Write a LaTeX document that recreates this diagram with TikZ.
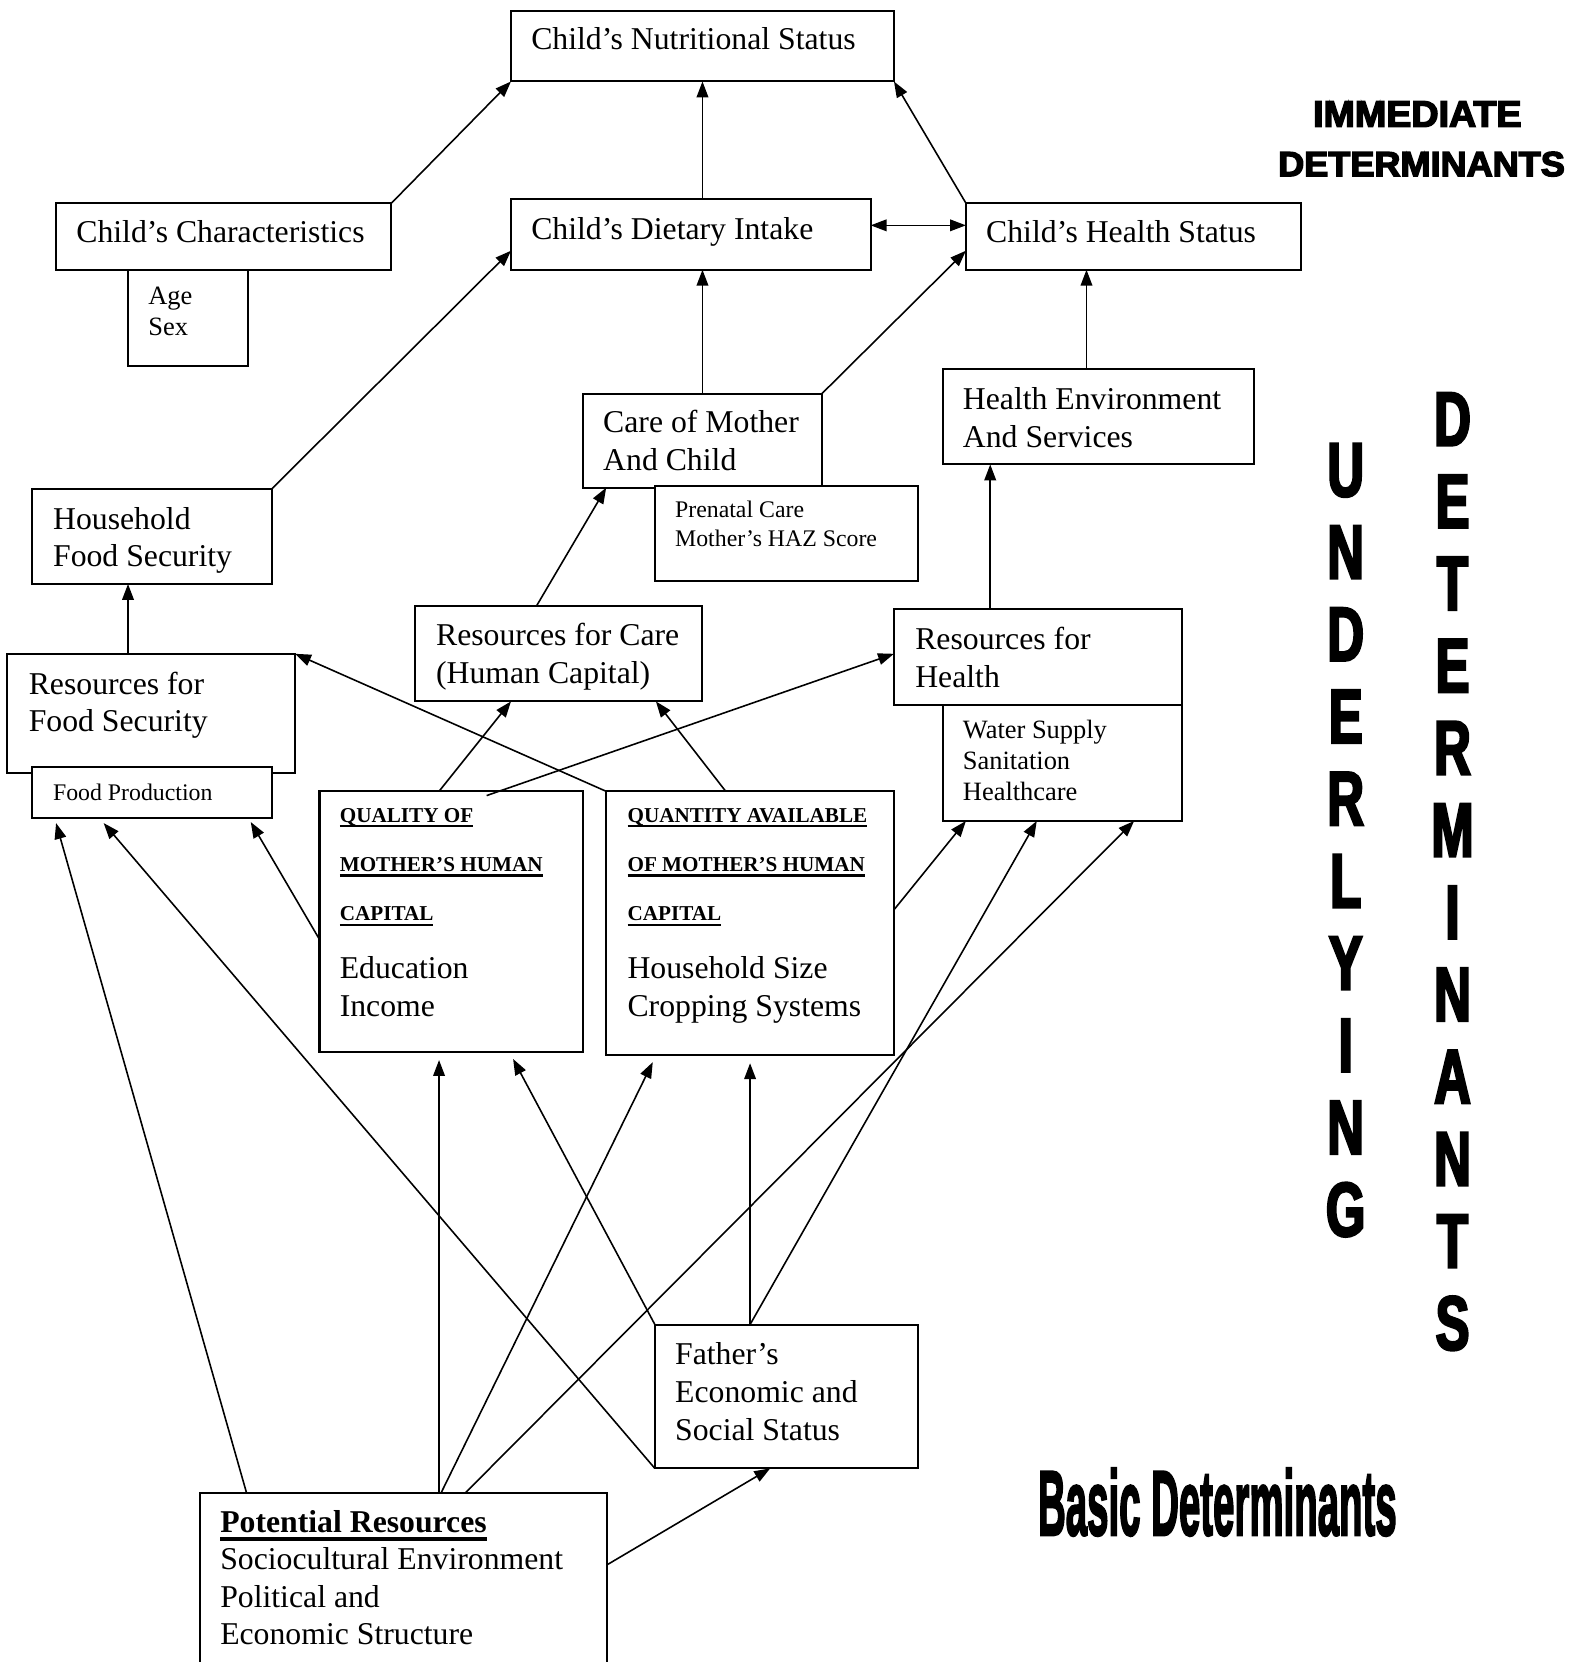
\documentclass[tikz,border=0pt]{standalone}
\usepackage{fontspec}
\usepackage{graphicx}
\setmainfont{Liberation Serif}
\newfontfamily\heavyfont{Liberation Sans}[BoldFeatures={FakeBold=4}]
\newfontfamily\basicfont{Liberation Sans}[BoldFeatures={FakeBold=3}]
\newfontfamily\condfont{Liberation Sans}[FakeStretch=0.66,BoldFeatures={FakeBold=3}]
\usetikzlibrary{arrows.meta}
\newsavebox\ulbox
\newcommand\myul[3]{\sbox\ulbox{#3}\rlap{\rule[#1]{\wd\ulbox}{#2}}\usebox\ulbox}
\begin{document}
\begin{tikzpicture}[x=1pt,y=-1pt,
  box/.style={draw, line width=1.9pt, fill=white, inner sep=0pt, outer sep=0pt, anchor=north west},
  txt/.style={anchor=north west, inner sep=0pt, align=left, font=\fontsize{30}{35.5}\selectfont},
  smalltxt/.style={anchor=north west, inner sep=0pt, align=left, font=\fontsize{25}{29}\selectfont},
  tinytxt/.style={anchor=north west, inner sep=0pt, align=left, font=\fontsize{22.5}{27}\selectfont},
  headtxt/.style={anchor=north west, inner sep=0pt, align=left, font=\fontsize{20}{46.5}\selectfont\bfseries},
  vword/.style={anchor=north, inner sep=0pt, align=center, font=\condfont\bfseries\fontsize{72.6}{77.7}\selectfont},
  label/.style={anchor=south west, inner sep=0pt},
  arr/.style={-{Triangle[length=15pt,width=11pt]}, line width=1.5pt},
  dbl/.style={{Triangle[length=15pt,width=11pt]}-{Triangle[length=15pt,width=11pt]}, line width=1.5pt}
]
\useasboundingbox (0,0) rectangle (1489,1571);

% ---------- boxes ----------
\node[box, minimum width=362pt, minimum height=67pt] (ns) at (483,10) {};
\node[box, minimum width=317pt, minimum height=63pt] (cc) at (53,192) {};
\node[box, minimum width=113pt, minimum height=91pt] (age) at (121,255) {};
\node[box, minimum width=340pt, minimum height=67pt] (di) at (483,188) {};
\node[box, minimum width=317pt, minimum height=63pt] (hs) at (913,192) {};
\node[box, minimum width=226pt, minimum height=89pt] (cm) at (551,372) {};
\node[box, minimum width=249pt, minimum height=90pt] (pc) at (619,459) {};
\node[box, minimum width=294pt, minimum height=90pt] (he) at (891,349) {};
\node[box, minimum width=227pt, minimum height=90pt] (hfs) at (30,462) {};
\node[box, minimum width=272pt, minimum height=113pt] (rfs) at (7,618) {};
\node[box, minimum width=227pt, minimum height=48pt] (fp) at (30,725) {};
\node[box, minimum width=272pt, minimum height=90pt] (rc) at (392,573) {};
\node[box, minimum width=272pt, minimum height=90pt] (rh) at (845,576) {};
\node[box, minimum width=226pt, minimum height=110pt] (ws) at (891,666) {};
\node[box, minimum width=249pt, minimum height=246pt] (q) at (302,748) {};
\node[box, minimum width=272pt, minimum height=249pt] (qa) at (573,748) {};
\node[box, minimum width=249pt, minimum height=136pt] (fa) at (619,1252) {};
\node[box, minimum width=385pt, minimum height=180pt] (pr) at (189,1411) {};

% ---------- texts ----------
\node[txt] (nsT) at (502,47-24.85) {\strut Child’s Nutritional Status};
\node[txt] (ccT) at (72,229-24.85) {\strut Child’s Characteristics};
\node[txt] (diT) at (502,226-24.85) {\strut Child’s Dietary Intake};
\node[txt] (hsT) at (932,229-24.85) {\strut Child’s Health Status};
\node[smalltxt] (ageT) at (140,288-20.3) {\strut Age\\Sex};
\node[txt] (cmT) at (570,409-24.85) {\strut Care of Mother\\And Child};
\node[tinytxt] (pcT) at (638,489-18.9) {\strut Prenatal Care\\Mother’s HAZ Score};
\node[txt] (heT) at (910,387-24.85) {\strut Health Environment\\And Services};
\node[txt] (hfsT) at (50,500-24.85) {\strut Household\\Food Security};
\node[txt] (rfsT) at (27,656-24.85) {\strut Resources for\\Food Security};
\node[tinytxt] (fpT) at (50,756-18.9) {\strut Food Production};
\node[txt] (rcT) at (412,610-24.85) {\strut Resources for Care\\(Human Capital)};
\node[txt] (rhT) at (865,614-24.85) {\strut Resources for\\Health};
\node[smalltxt] (wsT) at (910,698-20.3) {\strut Water Supply\\Sanitation\\Healthcare};
\node[headtxt] (qH) at (321,777-32.55) {\strut\myul{-4.8pt}{2pt}{QUALITY OF}\\\myul{-4.8pt}{2pt}{MOTHER’S HUMAN}\\\myul{-4.8pt}{2pt}{CAPITAL}};
\node[txt] (qB) at (321,925-24.85) {\strut Education\\Income};
\node[headtxt] (qaH) at (593,777-32.55) {\strut\myul{-4.8pt}{2pt}{QUANTITY AVAILABLE}\\\myul{-4.8pt}{2pt}{OF MOTHER’S HUMAN}\\\myul{-4.8pt}{2pt}{CAPITAL}};
\node[txt] (qaB) at (593,925-24.85) {\strut Household Size\\Cropping Systems};
\node[txt] (faT) at (638,1290-24.85) {\strut Father’s\\Economic and\\Social Status};
\node[txt] (prT) at (208,1448-24.85) {\strut\myul{-8pt}{3pt}{\textbf{Potential Resources}}\\Sociocultural Environment\\Political and\\Economic Structure};

% ---------- side labels ----------
\node[label] (imm) at (1241,120) {\resizebox{197pt}{24pt}{\heavyfont\bfseries IMMEDIATE}};
\node[label] (detI) at (1208,167) {\resizebox{271pt}{23pt}{\heavyfont\bfseries DETERMINANTS}};
\node[vword] (und) at (1272,419) {U\\N\\D\\E\\R\\L\\Y\\I\\N\\G};
\node[vword] (det) at (1373,371) {D\\E\\T\\E\\R\\M\\I\\N\\A\\N\\T\\S};
\node[label] (basic) at (981,1452) {\resizebox{339pt}{63pt}{\basicfont\bfseries Basic Determinants}};

% ---------- helper coordinates ----------
\coordinate (dA) at ([yshift=-25pt]di.north east);
\coordinate (diL) at ([yshift=-49pt]di.north west);
\coordinate (hsL) at ([yshift=-45pt]hs.north west);
\coordinate (heTop) at ([xshift=136pt]he.north west);
\coordinate (rfsTop) at ([xshift=114pt]rfs.north west);
\coordinate (rcTop) at ([xshift=115pt]rc.north west);
\coordinate (cmBot) at ([xshift=22pt]cm.south west);
\coordinate (rhTop) at ([xshift=91pt]rh.north west);
\coordinate (qTop) at ([xshift=113pt]q.north west);
\coordinate (qTop2) at ([xshift=158pt,yshift=-4pt]q.north west);
\coordinate (rcBot1) at ([xshift=91pt]rc.south west);
\coordinate (rcBot2) at ([xshift=228pt]rc.south west);
\coordinate (rhL) at ([yshift=-42pt]rh.north west);
\coordinate (qaTop) at ([xshift=113pt]qa.north west);
\coordinate (qL) at ([yshift=-140pt]q.north west);
\coordinate (fpB1) at ([xshift=23pt,yshift=-5pt]fp.south west);
\coordinate (fpB2) at ([xshift=68pt,yshift=-5pt]fp.south west);
\coordinate (fpB3) at ([xshift=207pt,yshift=-4pt]fp.south west);
\coordinate (qaR) at ([yshift=-112pt]qa.north east);
\coordinate (wsB1) at ([xshift=22pt]ws.south west);
\coordinate (wsB2) at ([xshift=89pt]ws.south west);
\coordinate (wsB3) at ([xshift=181pt]ws.south west);
\coordinate (prT1) at ([xshift=44pt]pr.north west);
\coordinate (prT2) at ([xshift=226pt]pr.north west);
\coordinate (prT3) at ([xshift=228pt]pr.north west);
\coordinate (prT4) at ([xshift=251pt]pr.north west);
\coordinate (prR) at ([yshift=-68pt]pr.north east);
\coordinate (qB1) at ([xshift=113pt,yshift=-8pt]q.south west);
\coordinate (qB2) at ([xshift=183pt,yshift=-7pt]q.south west);
\coordinate (qaB1) at ([xshift=44pt,yshift=-7pt]qa.south west);
\coordinate (qaB2) at ([xshift=136pt,yshift=-8pt]qa.south west);
\coordinate (faTop) at ([xshift=90pt]fa.north west);
\coordinate (faBot) at ([xshift=109pt]fa.south west);

% ---------- connectors ----------
\draw[arr] (cc.north east) -- (ns.south west);
\draw[arr] (ns.south |- di.north) -- (ns.south);
\draw[arr] (hs.north west) -- (ns.south east);
\draw[dbl] (dA) -- (dA -| hs.west);
\draw[arr] (hfs.north east) -- (diL);
\draw[arr] (cm.north) -- (cm.north |- di.south);
\draw[arr] (cm.north east) -- (hsL);
\draw[arr] (heTop) -- (heTop |- hs.south);
\draw[arr] (rfsTop) -- (rfsTop |- hfs.south);
\draw[arr] (rcTop) -- (cmBot);
\draw[arr] (rhTop) -- (rhTop |- he.south);
\draw[arr] (qTop) -- (rcBot1);
\draw[arr] (qTop2) -- (rhL);
\draw[arr] (qa.north west) -- (rfs.north east);
\draw[arr] (qaTop) -- (rcBot2);
\draw[arr] (qL) -- (fpB3);
\draw[arr] (qaR) -- (wsB1);
\draw[arr] (prT1) -- (fpB1);
\draw[arr] (fa.south west) -- (fpB2);
\draw[arr] (prT2) -- (qB1);
\draw[arr] (fa.north west) -- (qB2);
\draw[arr] (prT3) -- (qaB1);
\draw[arr] (faTop) -- (qaB2);
\draw[arr] (prT4) -- (wsB3);
\draw[arr] (faTop) -- (wsB2);
\draw[arr] (prR) -- (faBot);
\end{tikzpicture}
\end{document}
